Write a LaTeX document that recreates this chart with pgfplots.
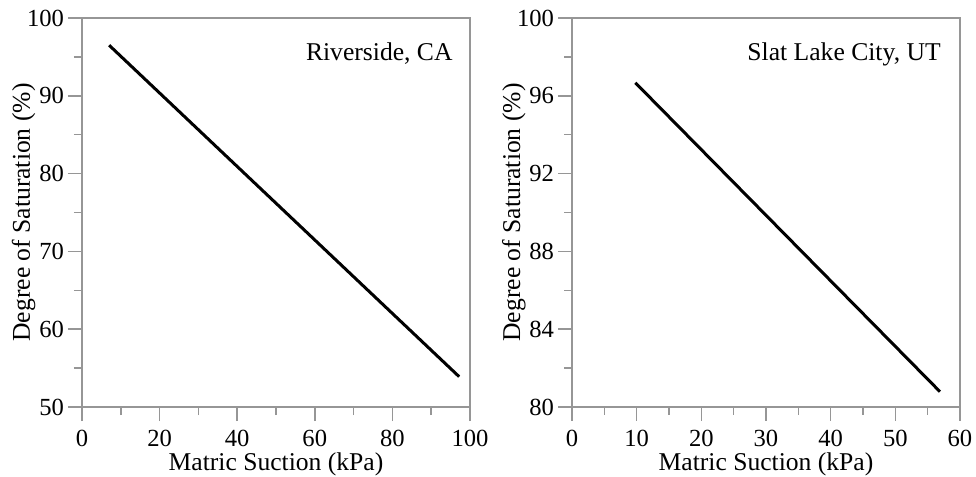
\documentclass[border=0pt]{standalone}
\usepackage{pgfplots}
\pgfplotsset{compat=1.18}
\usepackage{fontspec}
\setmainfont{Liberation Serif}
\definecolor{axgray}{RGB}{150,150,150}

\pgfplotsset{
  suctionplot/.style={
    scale only axis,
    width=194pt, height=194.5pt,
    axis line style={axgray, line width=0.75pt},
    every tick/.style={axgray, line width=0.75pt},
    tick align=outside,
    major tick length=7pt,
    minor tick length=4pt,
    xtick pos=left, ytick pos=left,
    minor x tick num=1,
    /pgf/number format/assume math mode=true,
    tick label style={font=\fontsize{12.3}{13}\selectfont},
    yticklabel style={xshift=1.5pt},
    xticklabel style={yshift=-1pt},
    label style={font=\fontsize{12.8}{14}\selectfont},
    xlabel={Matric Suction (kPa)},
    ylabel={Degree of Saturation (\%)},
    xlabel style={at={(axis description cs:0.5,0)}, anchor=base, yshift=-31.5pt},
    ylabel style={at={(axis description cs:0,0.5)}, anchor=base, yshift=26pt},
  }
}

\begin{document}
\begin{tikzpicture}

% Riverside
\begin{axis}[
  suctionplot,
  at={(0pt,0pt)}, anchor=south west,
  xmin=0, xmax=100, ymin=50, ymax=100,
  xtick={0,20,...,100}, ytick={50,60,...,100},
  minor y tick num=1,
]
\addplot[black, line width=1.5pt] coordinates {(7,96.5) (97.2,53.9)};
\node[anchor=base east, inner sep=0pt, font=\fontsize{12.8}{14}\selectfont] at (axis cs:95.6,94.6) {Riverside, CA};
\end{axis}

% Salt Lake City
\begin{axis}[
  suctionplot,
  at={(245pt,0pt)}, anchor=south west,
  xmin=0, xmax=60, ymin=80, ymax=100,
  xtick={0,10,...,60}, ytick={80,84,...,100},
  minor y tick num=1,
]
\addplot[black, line width=1.5pt] coordinates {(9.8,96.67) (56.9,80.79)};
\node[anchor=base east, inner sep=0pt, font=\fontsize{12.8}{14}\selectfont] at (axis cs:57.07,97.84) {Slat Lake City, UT};
\end{axis}

\pgfresetboundingbox
\path[use as bounding box] (-41pt,-35pt) rectangle (447pt,203.5pt);
\end{tikzpicture}
\end{document}
